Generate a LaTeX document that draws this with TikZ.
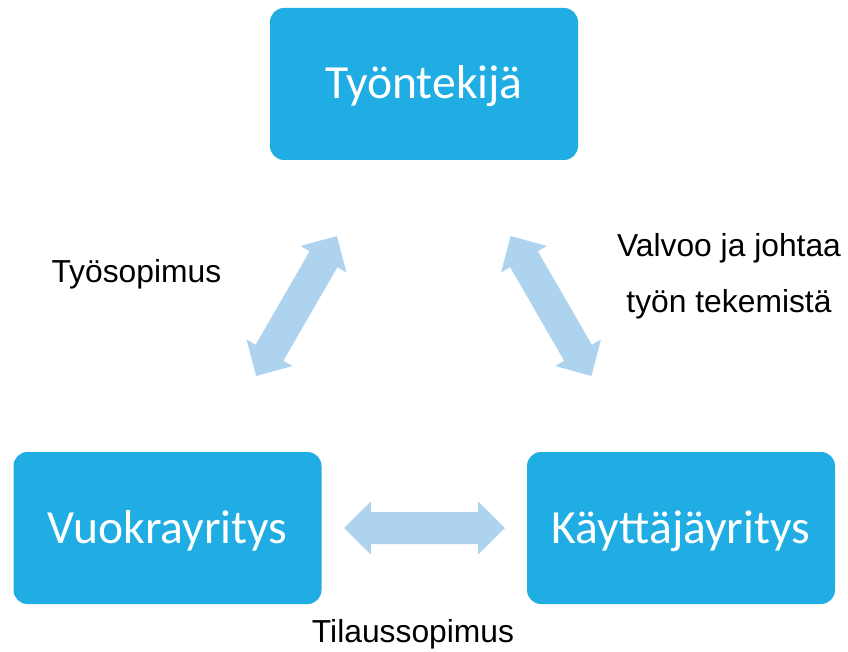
\documentclass[tikz,border=0pt]{standalone}
\usepackage{fontspec}
\newfontfamily\boxfont{Carlito}
\newfontfamily\labfont{Liberation Sans}
\definecolor{boxblue}{RGB}{31,173,228}
\definecolor{arrowblue}{RGB}{174,211,239}
\tikzset{
  party/.style={draw=none, fill=boxblue, rounded corners=14pt, minimum width=308pt, minimum height=152pt,
    inner sep=0pt, text=white, font=\boxfont\fontsize{47.6}{52}\selectfont, text height=34.5pt, text depth=4.5pt},
  lab/.style={inner sep=0pt, anchor=base, text=black, font=\labfont\fontsize{31.8}{36}\selectfont},
  blockarrow/.style={fill=arrowblue, draw=none}
}
\newcommand{\fatarrow}[3]{%
  \begin{scope}[shift={(#1)}, rotate=#2]
    \fill[blockarrow] (-#3,0) -- (-#3+26.8,26.5) -- (-#3+26.8,16) -- (#3-26.8,16) -- (#3-26.8,26.5)
      -- (#3,0) -- (#3-26.8,-26.5) -- (#3-26.8,-16) -- (-#3+26.8,-16) -- (-#3+26.8,-26.5) -- cycle;
  \end{scope}}
\begin{document}
\begin{tikzpicture}[x=1pt,y=1pt]
\useasboundingbox (0,0) rectangle (848,-652);
\node[party] (worker) at (424,-84) {Työntekijä};
\node[party] (agency) at (167.5,-528) {Vuokrayritys};
\node[party] (user) at (681,-528) {Käyttäjäyritys};
\coordinate (aL) at (296.5,-306);
\coordinate (aR) at (551,-306);
\coordinate (aB) at (424.5,-528);
\fatarrow{aL}{60}{80.8}
\fatarrow{aR}{120}{80.8}
\fatarrow{aB}{0}{80.5}
\node[lab] (tyosopimus) at (136.4,-282) {Työsopimus};
\node[lab] (valvoo1) at (729,-257) {Valvoo ja johtaa};
\node[lab] (valvoo2) at (729,-312) {työn tekemistä};
\node[lab] (tilaus) at (413,-642) {Tilaussopimus};
\end{tikzpicture}
\end{document}
